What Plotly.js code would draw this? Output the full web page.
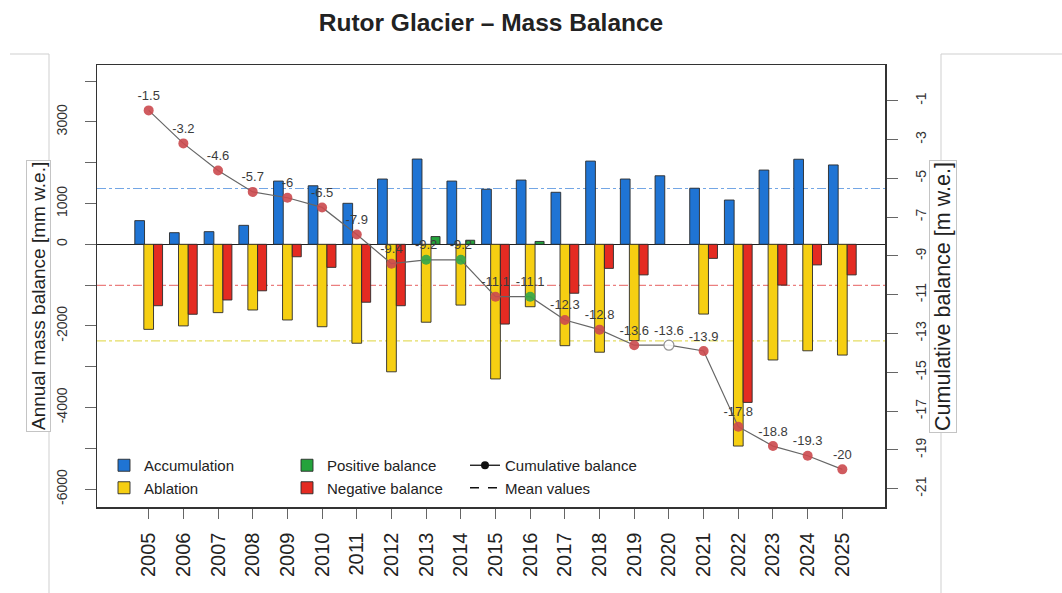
<!DOCTYPE html>
<html>
<head>
<meta charset="utf-8">
<script src="https://cdn.plot.ly/plotly-3.0.1.min.js"></script>
<style>
html,body{margin:0;padding:0;background:#fff;}
#chart{width:1062px;height:593px;}
</style>
</head>
<body>
<div id="chart"></div>
<script>
// ---- data ----
const years = [2005,2006,2007,2008,2009,2010,2011,2012,2013,2014,2015,2016,2017,2018,2019,2020,2021,2022,2023,2024,2025];
const yearLabels = years.map(String);
const accumulation = [580,285,310,465,1550,1435,1005,1600,2090,1550,1350,1575,1275,2040,1600,1680,1375,1085,1820,2085,1945];
const ablation = [-2085,-2000,-1675,-1610,-1855,-2020,-2425,-3125,-1910,-1490,-3300,-1530,-2485,-2645,-2360,null,-1710,-4945,-2835,-2610,-2715];
const balance = [-1505,-1715,-1365,-1140,-305,-565,-1420,-1505,190,100,-1955,70,-1200,-590,-750,null,-345,-3875,-1000,-505,-750];
const cumulative = [-1.5,-3.2,-4.6,-5.7,-6,-6.5,-7.9,-9.4,-9.2,-9.2,-11.1,-11.1,-12.3,-12.8,-13.6,-13.6,-13.9,-17.8,-18.8,-19.3,-20];
const leftTickVals = [-6000,-5000,-4000,-3000,-2000,-1000,0,1000,2000,3000,4000];
const leftTickText = ['-6000','','-4000','','-2000','','0','1000','','3000',''];
const rightTickVals = [-21,-19,-17,-15,-13,-11,-9,-7,-5,-3,-1];
const rightTickText = ['-21','-19','-17','-15','-13','-11','-9','-7','-5','-3','-1'];

// ---- helpers ----
const FONT = 'Liberation Sans, Arial, sans-serif';
const PL = 97, PR = 885, PT = 65, PB = 507;
const xp = px => (px - PL) / (PR - PL);
const yp = py => (PB - py) / (PB - PT);
const mean = arr => { const v = arr.filter(a => a !== null); return v.reduce((s, a) => s + a, 0) / v.length; };

const posBalance = balance.map(v => (v !== null && v > 0) ? v : null);
const negBalance = balance.map(v => (v !== null && v < 0) ? v : null);
const RED_PT = '#cc4a4e', GREEN_PT = '#33a64a';
const ptColor = balance.map(v => v === null ? '#ffffff' : (v > 0 ? GREEN_PT : RED_PT));
const ptLine = balance.map(v => v === null ? '#8a8a8a' : 'rgba(0,0,0,0)');
const ptText = cumulative.map(v => String(v));

const barLine = {color: '#2a2a2a', width: 0.9};

const traces = [
  {type: 'bar', name: 'Accumulation', x: years, y: accumulation, offset: -0.40, width: 0.28,
   marker: {color: '#1f74d4', line: barLine}, legend: 'legend', hoverinfo: 'skip'},
  {type: 'bar', name: 'Ablation', x: years, y: ablation, offset: -0.14, width: 0.28,
   marker: {color: '#f6cf12', line: barLine}, legend: 'legend', hoverinfo: 'skip'},
  {type: 'bar', name: 'Positive balance', x: years, y: posBalance, offset: 0.14, width: 0.26,
   marker: {color: '#24a33c', line: barLine}, legend: 'legend2', hoverinfo: 'skip'},
  {type: 'bar', name: 'Negative balance', x: years, y: negBalance, offset: 0.14, width: 0.26,
   marker: {color: '#e42b22', line: barLine}, legend: 'legend2', hoverinfo: 'skip'},
  {type: 'scatter', name: 'cum', x: years, y: cumulative, yaxis: 'y2', mode: 'lines+markers+text',
   line: {color: '#666666', width: 1.2},
   marker: {size: 10, color: ptColor, opacity: 0.9, line: {color: ptLine, width: 1.2}},
   text: ptText, textposition: 'top center', textfont: {family: FONT, size: 13, color: '#3c3c3c'},
   showlegend: false, hoverinfo: 'skip', cliponaxis: false},
  {type: 'scatter', name: 'Cumulative balance', x: [null], y: [null], yaxis: 'y2', mode: 'lines+markers',
   line: {color: '#111', width: 1.3}, marker: {color: '#111', size: 8}, legend: 'legend3'},
  {type: 'scatter', name: 'Mean values', x: [null], y: [null], mode: 'lines',
   line: {color: '#111', width: 1.4, dash: 'dash'}, legend: 'legend3'}
];

const meanShape = (val, color) => ({type: 'line', xref: 'paper', x0: 0, x1: 1, yref: 'y', y0: val, y1: val,
  line: {color: color, width: 1.1, dash: 'dashdot'}, layer: 'below'});
const greyLine = (x0, y0, x1, y1) => ({type: 'line', xref: 'paper', yref: 'paper',
  x0: xp(x0), y0: yp(y0), x1: xp(x1), y1: yp(y1), line: {color: '#cfcfcf', width: 1}, layer: 'above'});

const legendBase = {orientation: 'v', xanchor: 'left', yanchor: 'top', bgcolor: 'rgba(0,0,0,0)',
  borderwidth: 0, font: {family: FONT, size: 15, color: '#222'}, tracegroupgap: 0};

const layout = {
  width: 1062, height: 593,
  margin: {l: PL, r: 1062 - PR, t: PT, b: 593 - PB, pad: 0},
  paper_bgcolor: '#ffffff', plot_bgcolor: '#ffffff',
  barmode: 'overlay',
  showlegend: true,
  title: {text: '<b>Rutor Glacier – Mass Balance</b>', font: {family: FONT, size: 24.5, color: '#222'},
          x: 0.5, xref: 'paper', xanchor: 'center', y: 1 - 22 / 593, yref: 'container', yanchor: 'middle'},
  xaxis: {range: [2003.51, 2026.23], tickmode: 'array', tickvals: years, ticktext: yearLabels, tickangle: -90,
          ticks: 'outside', ticklen: 10, tickcolor: '#666', tickwidth: 1, ticklabelstandoff: 6,
          showline: true, linecolor: '#333', linewidth: 1.5, mirror: true, showgrid: false, zeroline: false,
          tickfont: {family: FONT, size: 20, color: '#222'}},
  yaxis: {range: [-6439, 4395], tickmode: 'array', tickvals: leftTickVals, ticktext: leftTickText, tickangle: -90,
          ticks: 'outside', ticklen: 11, tickcolor: '#666', tickwidth: 1, ticklabelstandoff: 12,
          showline: true, linecolor: '#333', linewidth: 1.5, showgrid: false,
          zeroline: true, zerolinecolor: '#222', zerolinewidth: 1.5,
          tickfont: {family: FONT, size: 14, color: '#333'}},
  yaxis2: {range: [-21.94, 0.84], overlaying: 'y', side: 'right', tickmode: 'array', tickvals: rightTickVals,
           ticktext: rightTickText, tickangle: -90, ticks: 'outside', ticklen: 11, tickcolor: '#666', tickwidth: 1,
           ticklabelstandoff: 12, showline: true, linecolor: '#333', linewidth: 1.5, showgrid: false, zeroline: false,
           tickfont: {family: FONT, size: 14, color: '#333'}},
  legend: Object.assign({}, legendBase, {x: xp(104), y: yp(449)}),
  legend2: Object.assign({}, legendBase, {x: xp(287), y: yp(449)}),
  legend3: Object.assign({}, legendBase, {x: xp(465), y: yp(449)}),
  shapes: [
    meanShape(mean(accumulation), 'rgba(90,150,225,0.85)'),
    meanShape(mean(ablation), 'rgba(225,215,70,0.85)'),
    meanShape(mean(balance), 'rgba(230,95,95,0.8)'),
    greyLine(10, 54, 49, 54),
    greyLine(49, 54, 49, 593),
    greyLine(941, 54, 941, 593),
    greyLine(941, 54, 1062, 54)
  ],
  annotations: [
    {text: 'Annual mass balance [mm w.e.]', xref: 'paper', yref: 'paper', x: xp(38), y: yp(296),
     xanchor: 'center', yanchor: 'middle', textangle: -90, showarrow: false,
     font: {family: FONT, size: 19, color: '#222'}, bgcolor: '#ffffff', bordercolor: '#c4c4c4', borderwidth: 1, borderpad: 1},
    {text: 'Cumulative balance [m w.e.]', xref: 'paper', yref: 'paper', x: xp(943), y: yp(297),
     xanchor: 'center', yanchor: 'middle', textangle: -90, showarrow: false,
     font: {family: FONT, size: 21.5, color: '#222'}, bgcolor: '#ffffff', bordercolor: '#c4c4c4', borderwidth: 1, borderpad: 1}
  ]
};

Plotly.newPlot('chart', traces, layout, {displayModeBar: false, staticPlot: true});
</script>
</body>
</html>
